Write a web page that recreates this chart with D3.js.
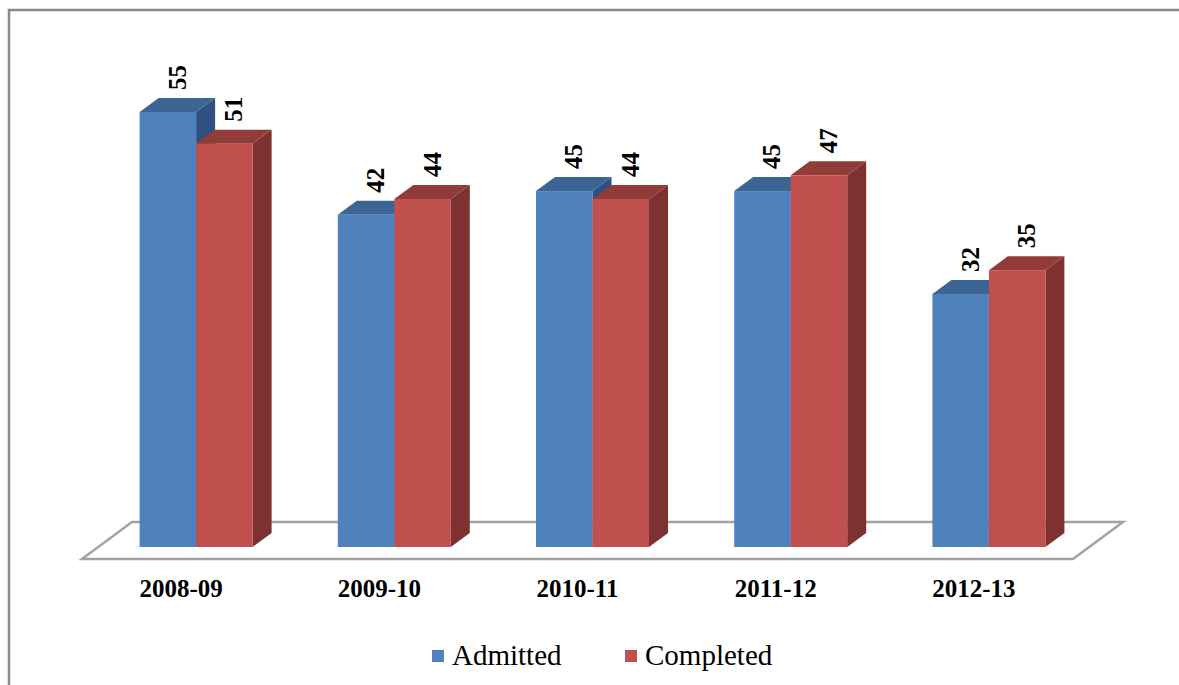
<!DOCTYPE html>
<html><head><meta charset="utf-8">
<script src="https://cdn.jsdelivr.net/npm/d3@7"></script>
<style>html,body{margin:0;padding:0;background:#fff;}svg{display:block;}
text{font-family:"Liberation Serif","Times New Roman",serif;}</style>
</head><body>
<svg id="c" width="1179" height="685"></svg>
<script>
const categories = ["2008-09","2009-10","2010-11","2011-12","2012-13"];
const seriesNames = ["Admitted","Completed"];
const admitted = [55,42,45,45,32];
const completed = [51,44,44,47,35];

const colors = {
  Admitted: {front:"#4F81BD", top:"#3C6594", side:"#2F5080"},
  Completed:{front:"#C0504D", top:"#923C3A", side:"#7D3130"}
};
const svg = d3.select("#c");
// frame
svg.append("path").attr("d","M9,685 L9,10 L1179,10").attr("fill","none").attr("stroke","#8a8a8a").attr("stroke-width",2.5);

const x = d3.scaleBand().domain(categories).range([82,1073]).padding(0);
const xs = d3.scaleBand().domain(seriesNames).range([0,113]).padding(0);
const y = d3.scaleLinear().domain([0,55]).range([547,112]);
const floorDx = 50, floorDy = 37, shift = 15;
const dx = 19, dy = 14;

// floor
const fx0 = x.range()[0], fx1 = x.range()[1], fy = 559;
svg.append("polygon")
  .attr("points",[[fx0,fy],[fx1,fy],[fx1+floorDx,fy-floorDy],[fx0+floorDx,fy-floorDy]].map(p=>p.join(",")).join(" "))
  .attr("fill","#fff").attr("stroke","#a3a3a3").attr("stroke-width",2.5);

const data = categories.map((c,i)=>({c, vals:[{s:"Admitted",v:admitted[i]},{s:"Completed",v:completed[i]}]}));
const bw = xs.bandwidth();
data.forEach(d=>{
  const cx = x(d.c)+x.bandwidth()/2 + shift - 56.5;
  d.vals.forEach(o=>{
    const x0 = cx + xs(o.s), x1 = x0 + bw, t = y(o.v), b = y(0);
    const g = svg.append("g");
    const col = colors[o.s];
    g.append("polygon").attr("points",[[x1,t],[x1+dx,t-dy],[x1+dx,b-dy],[x1,b]].map(p=>p.join(",")).join(" ")).attr("fill",col.side);
    g.append("polygon").attr("points",[[x0,t],[x0+dx,t-dy],[x1+dx,t-dy],[x1,t]].map(p=>p.join(",")).join(" ")).attr("fill",col.top);
    g.append("rect").attr("x",x0).attr("y",t).attr("width",bw).attr("height",b-t).attr("fill",col.front);
  });
});
// value labels
data.forEach(d=>{
  const cx = x(d.c)+x.bandwidth()/2 + shift - 56.5;
  d.vals.forEach(o=>{
    const lx = cx + xs(o.s) + bw/2 + 18, ly = y(o.v) - 22;
    svg.append("text").attr("transform",`translate(${lx},${ly}) rotate(-90)`)
      .attr("text-anchor","start")
      .style("font-weight","bold").style("font-size","25px").attr("fill","#000").text(String(o.v));
  });
});
// category labels
svg.selectAll("text.cat").data(categories).enter().append("text").attr("class","cat")
  .attr("x",d=>x(d)+x.bandwidth()/2).attr("y",597).attr("text-anchor","middle")
  .style("font-weight","bold").style("font-size","25px").attr("fill","#000").text(d=>d);
// legend
const legX = [432,625];
seriesNames.forEach((s,i)=>{
  svg.append("rect").attr("x",legX[i]).attr("y",650).attr("width",12).attr("height",12).attr("fill",colors[s].front);
  svg.append("text").attr("x",legX[i]+20).attr("y",665)
    .style("font-size","29px").attr("fill","#000").text(s);
});
</script>
</body></html>
